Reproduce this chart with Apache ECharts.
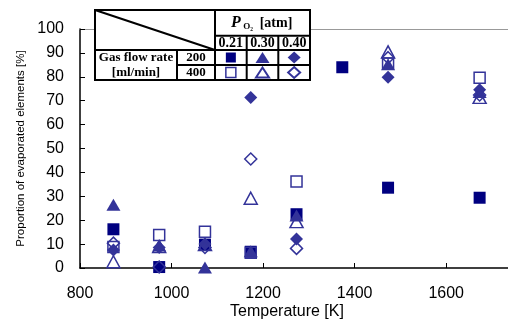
<!DOCTYPE html>
<html>
<head>
<meta charset="utf-8">
<script src="https://cdn.jsdelivr.net/npm/echarts@6/dist/echarts.min.js"></script>
<style>
  html, body { margin: 0; padding: 0; background: #fff; }
  #chart { width: 508px; height: 320px; }
</style>
</head>
<body>
<div id="chart"></div>
<script>
// temperatures [K]
let temps = [873, 973, 1073, 1173, 1273, 1373, 1473, 1673];
let xTicks = [800, 1000, 1200, 1400, 1600];

// proportion of evaporated elements [%], null = no point
let sq200 = [16.2, 0.4, 9.8, 6.8, 22.5, 84.0, 33.6, 29.4];     // 0.21 atm, 200 ml/min
let sq400 = [8.8, 13.8, 15.2, 6.4, 36.2, null, 85.6, 79.6];    // 0.21 atm, 400 ml/min
let tri200 = [26.5, 9.4, 0.2, 7.0, 22.0, null, 85.2, 73.6];    // 0.30 atm, 200 ml/min
let tri400 = [2.6, 9.0, 9.8, 29.2, 19.4, null, 90.4, 71.4];    // 0.30 atm, 400 ml/min
let dia200 = [7.5, 8.6, 10.0, 71.3, 12.1, null, 79.8, 74.6];   // 0.40 atm, 200 ml/min
let dia400 = [10.4, 0.4, 8.6, 45.6, 8.2, null, 88.0, 72.4];    // 0.40 atm, 400 ml/min

let dark = '#000080';
let blue = '#333399';

function pts(vals) {
  let out = [];
  for (let i = 0; i < temps.length; i++) {
    if (vals[i] != null) out.push([temps[i], vals[i]]);
  }
  return out;
}

function filled(name, data, symbol, size, color) {
  return {
    name: name, type: 'scatter', data: pts(data), symbol: symbol, symbolSize: size,
    itemStyle: { color: color, opacity: 1 }
  };
}
function hollow(name, data, symbol, size) {
  return {
    name: name, type: 'scatter', data: pts(data), symbol: symbol, symbolSize: size,
    itemStyle: { color: 'transparent', borderColor: blue, borderWidth: 1.5, opacity: 1 }
  };
}

// legend table (drawn as graphic)
let serif = '"Liberation Serif", "Times New Roman", serif';
let tx = [95, 177, 215, 246.7, 278.3, 310];
let ty = [10, 35.7, 50, 65, 80];
let line = function (x1, y1, x2, y2) {
  return { type: 'line', shape: { x1: x1, y1: y1, x2: x2, y2: y2 }, style: { stroke: '#000', lineWidth: 2 }, z: 101 };
};
let txt = function (s, x, y, size, extra) {
  let st = { text: s, x: x, y: y, fill: '#000', font: 'bold ' + size + 'px ' + serif, align: 'center', verticalAlign: 'middle' };
  for (let k in extra || {}) st[k] = extra[k];
  return { type: 'text', style: st, z: 102 };
};
let triPts = function (cx, cy, w, h, c, open) {
  return {
    type: 'polygon', shape: { points: [[cx, cy - h / 2], [cx + w / 2, cy + h / 2], [cx - w / 2, cy + h / 2]] },
    style: open ? { fill: '#fff', stroke: c, lineWidth: 2 } : { fill: c }, z: 102
  };
};
let diaPts = function (cx, cy, w, h, c, open) {
  return {
    type: 'polygon', shape: { points: [[cx, cy - h / 2], [cx + w / 2, cy], [cx, cy + h / 2], [cx - w / 2, cy]] },
    style: open ? { fill: '#fff', stroke: c, lineWidth: 2 } : { fill: c }, z: 102
  };
};
let sqPts = function (cx, cy, s, c, open) {
  return {
    type: 'rect', shape: { x: cx - s / 2, y: cy - s / 2, width: s, height: s },
    style: open ? { fill: '#fff', stroke: c, lineWidth: 1.5 } : { fill: c }, z: 102
  };
};
let r1 = (ty[2] + ty[3]) / 2, r2 = (ty[3] + ty[4]) / 2;
let c1 = (tx[2] + tx[3]) / 2, c2 = (tx[3] + tx[4]) / 2, c3 = (tx[4] + tx[5]) / 2;
let tableEls = [
  { type: 'rect', shape: { x: tx[0], y: ty[0], width: tx[5] - tx[0], height: ty[4] - ty[0] }, style: { fill: '#fff', stroke: '#000', lineWidth: 2 }, z: 100 },
  line(tx[0], ty[0], tx[2], ty[2]),
  line(tx[2], ty[0], tx[2], ty[4]),
  line(tx[2], ty[1], tx[5], ty[1]),
  line(tx[0], ty[2], tx[5], ty[2]),
  line(tx[1], ty[3], tx[5], ty[3]),
  line(tx[1], ty[2], tx[1], ty[4]),
  line(tx[3], ty[1], tx[3], ty[4]),
  line(tx[4], ty[1], tx[4], ty[4]),
  txt('P', 236, 23, 16, { font: 'italic bold 16px ' + serif }),
  txt('O\u2082', 248, 27, 9, { font: 'bold 9px ' + serif }),
  txt('[atm]', 276, 23, 14),
  txt('0.21', c1, 43, 14),
  txt('0.30', c2, 43, 14),
  txt('0.40', c3, 43, 14),
  txt('Gas flow rate', (tx[0] + tx[1]) / 2, r1, 13),
  txt('[ml/min]', (tx[0] + tx[1]) / 2, r2, 13),
  txt('200', (tx[1] + tx[2]) / 2, r1, 13),
  txt('400', (tx[1] + tx[2]) / 2, r2, 13),
  sqPts(c1, r1, 10, dark, false),
  sqPts(c1, r2, 10, blue, true),
  triPts(c2, r1, 14, 11, blue, false),
  triPts(c2, r2, 13, 10, blue, true),
  diaPts(c3, r1, 13, 12, blue, false),
  diaPts(c3, r2, 12, 11, blue, true),
  // x axis title
  {
    type: 'text', z: 102,
    style: { text: 'Temperature [K]', x: 287, y: 311.5, fill: '#000', font: '16px "Liberation Sans", Arial', align: 'center', verticalAlign: 'middle' }
  }
];

let option = {
  animation: false,
  backgroundColor: '#fff',
  grid: { left: 80, right: 0, top: 29, bottom: 52, containLabel: false, outerBoundsMode: 'none' },
  xAxis: [{
    type: 'value', min: 800, max: 1735, interval: 200,
    axisLine: { lineStyle: { color: '#000', width: 1.5 } },
    axisTick: { inside: true, length: 5, lineStyle: { color: '#000' }, customValues: xTicks },
    axisLabel: {
      fontSize: 16, color: '#000', fontFamily: 'Liberation Sans, Arial', margin: 18, customValues: xTicks,
      formatter: function (v) { return String(v); }
    },
    splitLine: { show: false }
  }, {
    type: 'value', min: 800, max: 1735, position: 'top',
    axisLine: { show: true, lineStyle: { color: '#999', width: 1 } },
    axisTick: { show: false }, axisLabel: { show: false }, splitLine: { show: false }
  }],
  yAxis: {
    type: 'value', min: 0, max: 100, interval: 10,
    name: 'Proportion of evaporated elements [%]', nameLocation: 'middle', nameGap: 51,
    nameTextStyle: { fontSize: 11.5, color: '#000', fontFamily: 'Liberation Sans, Arial' },
    axisLine: { show: true, lineStyle: { color: '#000', width: 1.5 } },
    axisTick: { show: true, inside: true, length: 5, lineStyle: { color: '#000' } },
    axisLabel: { fontSize: 16, color: '#000', fontFamily: 'Liberation Sans, Arial', margin: 16 },
    splitLine: { show: false }
  },
  series: [
    filled('0.21 / 200', sq200, 'rect', 12, dark),
    hollow('0.21 / 400', sq400, 'rect', 11),
    filled('0.30 / 200', tri200, 'triangle', [14, 12], blue),
    hollow('0.30 / 400', tri400, 'triangle', [13, 12]),
    filled('0.40 / 200', dia200, 'diamond', [13, 13], blue),
    hollow('0.40 / 400', dia400, 'diamond', [12, 12])
  ],
  graphic: tableEls
};

let chart = echarts.init(document.getElementById('chart'));
chart.setOption(option);
</script>
</body>
</html>
